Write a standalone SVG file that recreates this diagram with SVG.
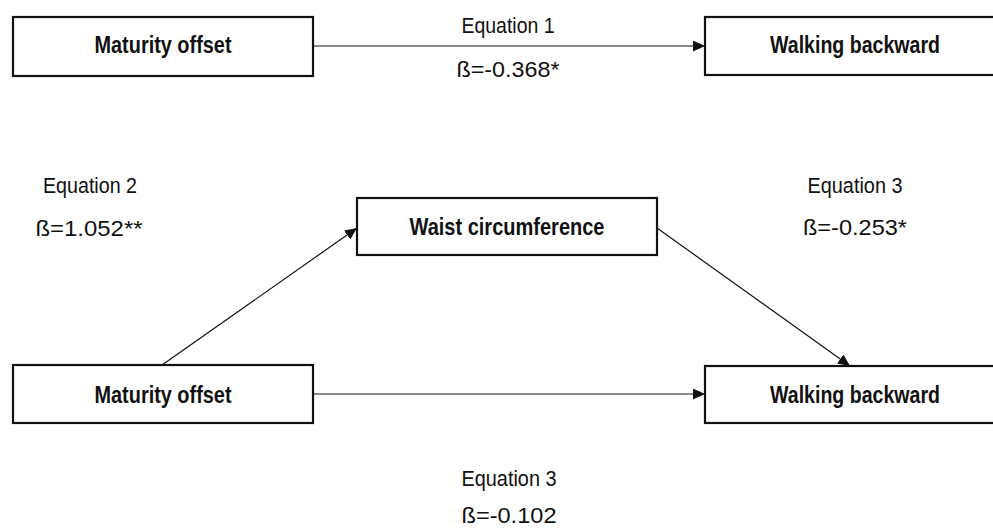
<svg xmlns="http://www.w3.org/2000/svg" width="993" height="530" viewBox="0 0 993 530">
<style>
.box{fill:#fff;stroke:#111;stroke-width:2.2}
.lbl{font-family:"Liberation Sans",Arial,sans-serif;font-weight:bold;font-size:23px;fill:#111;text-anchor:middle}
.eq{font-family:"Liberation Sans",Arial,sans-serif;font-size:22px;fill:#111;text-anchor:middle}
.edge{stroke:#111;stroke-width:1.2;fill:none;marker-end:url(#arr)}
</style>
<defs>
<marker id="arr" markerUnits="userSpaceOnUse" markerWidth="12" markerHeight="11" refX="12" refY="5.5" orient="auto" viewBox="0 0 12 11">
<path d="M0,0 L12,5.5 L0,11 z" fill="#111"/>
</marker>
</defs>
<rect width="993" height="530" fill="#fff"/>
<g id="connectors">
<line class="edge" x1="313" y1="46" x2="705" y2="46"/>
<line class="edge" x1="162" y1="365" x2="357" y2="228"/>
<line class="edge" x1="657" y1="228" x2="850" y2="366"/>
<line class="edge" x1="313" y1="394" x2="705" y2="394"/>
</g>
<g id="n_maturity1"><rect class="box" x="13" y="17" width="300" height="59"/><text class="lbl" x="163" y="53" textLength="137" lengthAdjust="spacingAndGlyphs">Maturity offset</text></g>
<g id="n_walking1"><rect class="box" x="705" y="17" width="300" height="58"/><text class="lbl" x="855" y="53" textLength="170" lengthAdjust="spacingAndGlyphs">Walking backward</text></g>
<g id="n_waist"><rect class="box" x="357" y="198" width="300" height="57"/><text class="lbl" x="507" y="235" textLength="195" lengthAdjust="spacingAndGlyphs">Waist circumference</text></g>
<g id="n_maturity2"><rect class="box" x="13" y="365" width="300" height="58"/><text class="lbl" x="163" y="403" textLength="137" lengthAdjust="spacingAndGlyphs">Maturity offset</text></g>
<g id="n_walking2"><rect class="box" x="705" y="366" width="300" height="57"/><text class="lbl" x="855" y="403" textLength="170" lengthAdjust="spacingAndGlyphs">Walking backward</text></g>
<g id="labels">
<text class="eq" x="508" y="33" textLength="93" lengthAdjust="spacingAndGlyphs">Equation 1</text>
<text class="eq" x="508" y="77" textLength="103" lengthAdjust="spacingAndGlyphs">ß=-0.368*</text>
<text class="eq" x="90" y="193" textLength="94" lengthAdjust="spacingAndGlyphs">Equation 2</text>
<text class="eq" x="89" y="236" textLength="107" lengthAdjust="spacingAndGlyphs">ß=1.052**</text>
<text class="eq" x="855" y="193" textLength="95" lengthAdjust="spacingAndGlyphs">Equation 3</text>
<text class="eq" x="855" y="235" textLength="104" lengthAdjust="spacingAndGlyphs">ß=-0.253*</text>
<text class="eq" x="509" y="486" textLength="95" lengthAdjust="spacingAndGlyphs">Equation 3</text>
<text class="eq" x="509" y="523" textLength="95" lengthAdjust="spacingAndGlyphs">ß=-0.102</text>
</g>
</svg>
